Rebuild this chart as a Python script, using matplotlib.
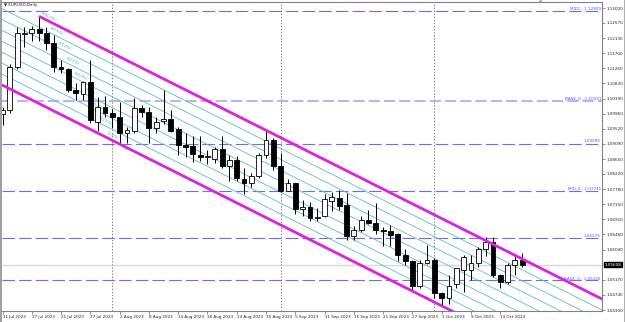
import matplotlib
matplotlib.use('Agg')
import matplotlib.pyplot as plt
import matplotlib.transforms as mtransforms
from matplotlib.patches import Rectangle
import numpy as np

plt.rcParams['lines.scale_dashes'] = False
plt.rcParams['font.family'] = ['DejaVu Sans']

# ---------------- data (daily EURUSD candles, 11 Jul 2023 .. 18 Oct 2023) -------------
opens = [1.0995, 1.1006, 1.1130, 1.1225, 1.1228, 1.1240, 1.1228, 1.1199, 1.1130, 1.1125,
         1.1064, 1.1052, 1.1086, 1.0972, 1.1015, 1.0998, 1.0986, 1.0940, 1.0945, 1.1012,
         1.1000, 1.0955, 1.0975, 1.0980, 1.0951, 1.0905, 1.0903, 1.0877, 1.0871, 1.0865,
         1.0894, 1.0845, 1.0862, 1.0807, 1.0795, 1.0817, 1.0877, 1.0920, 1.0844, 1.0774,
         1.0795, 1.0722, 1.0726, 1.0695, 1.0700, 1.0745, 1.0752, 1.0733, 1.0643, 1.0660,
         1.0690, 1.0680, 1.0662, 1.0658, 1.0648, 1.0590, 1.0570, 1.0500, 1.0565, 1.0575,
         1.0478, 1.0466, 1.0505, 1.0546, 1.0545, 1.0565, 1.0605, 1.0625, 1.0530, 1.0510,
         1.0560, 1.0575]
highs = [1.1014, 1.1138, 1.1245, 1.1244, 1.1249, 1.1276, 1.1244, 1.1223, 1.1150, 1.1128,
         1.1085, 1.1090, 1.1150, 1.1044, 1.1046, 1.1009, 1.1030, 1.0957, 1.1042, 1.1021,
         1.1015, 1.0985, 1.1065, 1.1006, 1.0957, 1.0940, 1.0930, 1.0930, 1.0892, 1.0900,
         1.0931, 1.0877, 1.0874, 1.0840, 1.0826, 1.0882, 1.0945, 1.0925, 1.0882, 1.0807,
         1.0797, 1.0747, 1.0740, 1.0725, 1.0765, 1.0769, 1.0775, 1.0768, 1.0673, 1.0700,
         1.0718, 1.0737, 1.0670, 1.0675, 1.0652, 1.0605, 1.0575, 1.0574, 1.0617, 1.0580,
         1.0483, 1.0531, 1.0542, 1.0590, 1.0590, 1.0613, 1.0640, 1.0640, 1.0535, 1.0565,
         1.0586, 1.0595]
lows = [1.0962, 1.0998, 1.1125, 1.1188, 1.1205, 1.1205, 1.1180, 1.1117, 1.1112, 1.1059,
        1.1036, 1.1034, 1.0970, 1.0945, 1.0985, 1.0955, 1.0912, 1.0912, 1.0940, 1.0985,
        1.0912, 1.0940, 1.0966, 1.0942, 1.0877, 1.0871, 1.0856, 1.0860, 1.0852, 1.0855,
        1.0840, 1.0802, 1.0801, 1.0765, 1.0785, 1.0811, 1.0867, 1.0833, 1.0770, 1.0772,
        1.0706, 1.0702, 1.0686, 1.0686, 1.0699, 1.0716, 1.0717, 1.0631, 1.0632, 1.0655,
        1.0677, 1.0650, 1.0615, 1.0616, 1.0570, 1.0560, 1.0488, 1.0495, 1.0563, 1.0465,
        1.0445, 1.0448, 1.0495, 1.0482, 1.0516, 1.0555, 1.0586, 1.0525, 1.0495, 1.0505,
        1.0532, 1.0555]
closes = [1.1006, 1.1130, 1.1228, 1.1229, 1.1240, 1.1228, 1.1199, 1.1130, 1.1125, 1.1064,
          1.1055, 1.1086, 1.0977, 1.1015, 1.0998, 1.0986, 1.0940, 1.0949, 1.1012, 1.1000,
          1.0955, 1.0972, 1.0980, 1.0946, 1.0905, 1.0900, 1.0880, 1.0871, 1.0873, 1.0894,
          1.0845, 1.0862, 1.0810, 1.0795, 1.0817, 1.0877, 1.0920, 1.0844, 1.0774, 1.0795,
          1.0722, 1.0726, 1.0695, 1.0699, 1.0751, 1.0755, 1.0730, 1.0643, 1.0660, 1.0690,
          1.0680, 1.0660, 1.0658, 1.0645, 1.0590, 1.0570, 1.0500, 1.0565, 1.0575, 1.0478,
          1.0466, 1.0500, 1.0550, 1.0584, 1.0565, 1.0605, 1.0625, 1.0530, 1.0510, 1.0560,
          1.0575, 1.0561]

date_tick_idx = [0, 4, 8, 12, 16, 20, 24, 28, 32, 36, 40, 44, 48, 52, 56, 60, 64, 68]
date_tick_labels = ['11 Jul 2023', '17 Jul 2023', '21 Jul 2023', '27 Jul 2023', '2 Aug 2023',
                    '8 Aug 2023', '14 Aug 2023', '18 Aug 2023', '24 Aug 2023', '30 Aug 2023',
                    '5 Sep 2023', '11 Sep 2023', '15 Sep 2023', '21 Sep 2023', '27 Sep 2023',
                    '3 Oct 2023', '9 Oct 2023', '13 Oct 2023']
month_sep_idx = [15, 38, 59]

price_ticks = [1.13000, 1.12570, 1.12130, 1.11700, 1.11260, 1.10830, 1.10390, 1.09960,
               1.09520, 1.09090, 1.08650, 1.08220, 1.07780, 1.07350, 1.06910, 1.06480,
               1.06040, 1.05170, 1.04740, 1.04300]

level_prices = [1.12909, 1.10331, 1.09095, 1.07741, 1.06375, 1.05156]
level_labels = ['MID1 - 1.12909', 'BASE_0 - 1.10331', '1.09095', 'MID_0 - 1.07741',
                '1.06375', 'BASE_0 - 1.05156']
level_heavy = [False, True, False, False, False, False]
current_price = 1.05608

channel_anchor_idx = 5
channel_anchor_price = 1.1276
channel_slope = -0.0010587
channel_width = 0.02514
channel_lower_anchor_idx = 14
fib_levels = [0.0, 0.125, 0.25, 0.375, 0.5, 0.625, 0.75, 0.875, 1.0]
fib_labels = ['(0.0%)', '(12.5%)', '(25.0%)', '(37.5%)', '(50.0%)', '(62.5%)',
              '(75.0%)', '(87.5%)', '(100.0%)']

symbol_title = 'EURUSD,Daily'

# ---------------- figure ----------------
W, H = 625, 322
fig = plt.figure(figsize=(W / 100, H / 100), dpi=100)
fig.patch.set_facecolor('white')
ax = fig.add_axes([2 / W, 11 / H, 600 / W, 309 / H])
xmin, xmax = -0.07, 81.9
ymin, ymax = 1.042736, 1.131728
ax.set_xlim(xmin, xmax)
ax.set_ylim(ymin, ymax)

for s in ax.spines.values():
    s.set_color('#808080')
    s.set_linewidth(0.8)
ax.spines['left'].set_visible(False)

# current price line
ax.axhline(current_price, color='#d8d8d8', lw=1.0, zorder=1)

# month separators
for i in month_sep_idx:
    ax.axvline(i, color='#808080', lw=0.7, ls=(0, (1, 1.2)), zorder=1)

# horizontal levels
for p, lab, heavy in zip(level_prices, level_labels, level_heavy):
    if heavy:
        ax.axhline(p, color='#b4b4ff', lw=1.5, dashes=(8, 3), zorder=1)
    else:
        ax.axhline(p, color='#6a6aff', lw=0.8, dashes=(9, 3), zorder=1)
    ax.text(xmax - 0.15, p + 0.00005, lab, ha='right', va='bottom', fontsize=3.0,
            color='#4f4fff', zorder=5)

# channel
def upper(x):
    return channel_anchor_price + channel_slope * (np.asarray(x) - channel_anchor_idx)

xs_full = np.array([xmin - 2, xmax + 2])
for f in fib_levels[1:-1]:
    ax.plot(xs_full, upper(xs_full) - channel_width * (1 - f), color='#5cc0bc', lw=0.6, zorder=1.5)
xs_up = np.array([channel_anchor_idx, xmax + 2])
ax.plot(xs_up, upper(xs_up), color='#dd22dd', lw=2.0, zorder=4, solid_capstyle='butt')
ax.plot(xs_full, upper(xs_full) - channel_width, color='#dd22dd', lw=2.0, zorder=4)

# angle of channel on screen
p0 = ax.transData.transform((0, upper(0)))
p1 = ax.transData.transform((10, upper(10)))
ang = np.degrees(np.arctan2(p1[1] - p0[1], p1[0] - p0[0]))
span = channel_lower_anchor_idx - channel_anchor_idx
for f, lab in zip(fib_levels, fib_labels):
    xi = channel_lower_anchor_idx - span * f
    yi = upper(xi) - channel_width * (1 - f)
    ax.text(xi + 0.2, yi + 0.0004, lab, fontsize=2.6, color='#3aa6a6', rotation=ang,
            rotation_mode='anchor', ha='left', va='bottom', zorder=2)

# candles
idx = np.arange(len(opens))
o = np.array(opens); h = np.array(highs); l = np.array(lows); c = np.array(closes)
ax.vlines(idx, l, h, color='black', lw=0.7, zorder=2.5)
bw = 0.66
for i in idx:
    bottom = min(o[i], c[i])
    height = max(abs(c[i] - o[i]), 0.00003)
    up = c[i] >= o[i]
    ax.add_patch(Rectangle((i - bw / 2, bottom), bw, height,
                           facecolor='white' if up else 'black', edgecolor='black',
                           lw=0.6, zorder=3))

# axes ticks
ax.yaxis.tick_right()
ax.set_yticks(price_ticks)
ax.set_yticklabels([f'{p:.5f}' for p in price_ticks])
ax.tick_params(axis='y', which='both', direction='out', length=2, width=0.5, color='#606060',
               labelsize=3.0, pad=1.2, labelcolor='#222222')
ax.set_xticks(date_tick_idx)
ax.set_xticklabels(date_tick_labels)
ax.tick_params(axis='x', direction='out', length=2, width=0.5, color='#606060',
               labelsize=3.0, pad=1.2, labelcolor='#222222')
for t in ax.get_xticklabels():
    t.set_horizontalalignment('left')

# current price box
trans = mtransforms.blended_transform_factory(ax.transAxes, ax.transData)
ax.text(1.004, current_price, f'{current_price:.5f}', transform=trans, fontsize=3.0,
        color='white', va='center', ha='left',
        bbox=dict(boxstyle='square,pad=0.15', facecolor='black', edgecolor='black'),
        clip_on=False, zorder=6)

# title and chart shift marker
fig.text(4 / W, 1 - 5 / H, '\u25BC ' + symbol_title, fontsize=3.0, color='#222222',
         va='center', ha='left')
fig.text(541 / W, 1 - 3 / H, '\u25BC', fontsize=3, color='#909090', va='center', ha='center')

# figure borders
fig.patches.append(Rectangle((0, 0), 2 / W, 1, transform=fig.transFigure,
                             facecolor='#a0a0a0', edgecolor='none'))
fig.patches.append(Rectangle((1 - 1.5 / W, 0), 1.5 / W, 1, transform=fig.transFigure,
                             facecolor='#b0b0b0', edgecolor='none'))

fig.savefig('out.png', dpi=100, facecolor='white')
